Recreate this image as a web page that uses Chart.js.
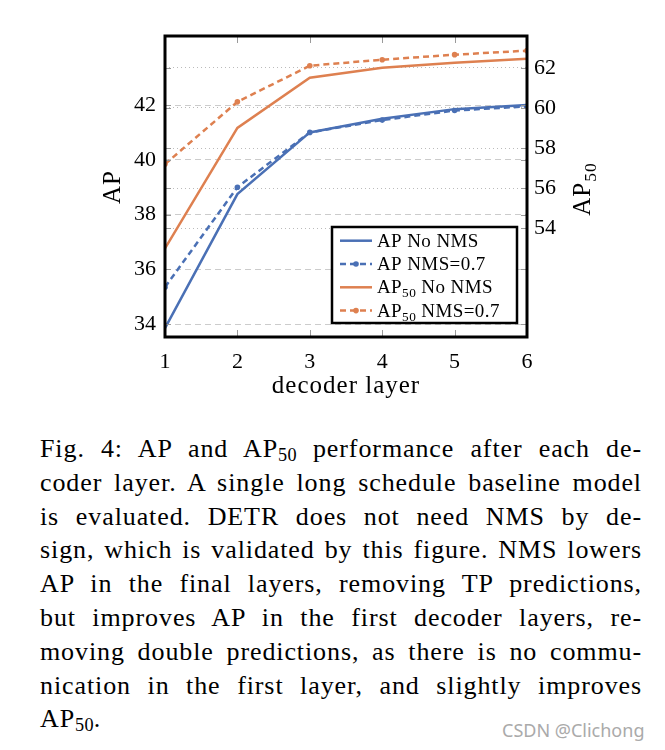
<!DOCTYPE html>
<html>
<head>
<meta charset="utf-8">
<script src="https://cdn.jsdelivr.net/npm/chart.js@4.4.0/dist/chart.umd.min.js"></script>
<style>
body{margin:0;background:#fff;width:665px;height:750px;overflow:hidden;position:relative;font-family:"Liberation Serif","DejaVu Serif",serif;color:#000;}
#wrap{position:absolute;left:0;top:0;width:665px;height:410px;}
#caption{position:absolute;left:40px;top:432px;width:602px;font-size:26px;line-height:33.8px;letter-spacing:0.9px;}
#caption div{text-align:justify;text-align-last:justify;height:33.8px;white-space:nowrap;}
#caption div.last{text-align-last:left;}
sub{font-size:0.7em;vertical-align:-0.22em;line-height:0;letter-spacing:0.3px;}
#mark{position:absolute;left:502px;top:719px;font-family:"Noto Sans",sans-serif;font-size:18px;color:#aaa;line-height:22px;}
</style>
</head>
<body>
<div id="wrap"><canvas id="myChart" width="665" height="410"></canvas></div>
<div id="caption">
<div>Fig. 4: AP and AP<sub>50</sub> performance after each de-</div>
<div>coder layer. A single long schedule baseline model</div>
<div>is evaluated. DETR does not need NMS by de-</div>
<div>sign, which is validated by this figure. NMS lowers</div>
<div>AP in the final layers, removing TP predictions,</div>
<div>but improves AP in the first decoder layers, re-</div>
<div>moving double predictions, as there is no commu-</div>
<div>nication in the first layer, and slightly improves</div>
<div class="last">AP<sub>50</sub>.</div>
</div>
<div id="mark">CSDN @Clichong</div>
<script>
const ctx = document.getElementById('myChart').getContext('2d');

const serif = "'Liberation Serif', 'DejaVu Serif', serif";
const blue = '#4a70b5';
const orange = '#de8050';

// decoder layer on x
const layers = [1, 2, 3, 4, 5, 6];

// AP (left axis)
const apNoNms = [33.85, 38.75, 41.0, 41.5, 41.85, 42.0];
const apNms = [35.35, 39.0, 41.0, 41.45, 41.8, 41.95];

// AP50 (right axis)
const ap50NoNms = [53.0, 59.0, 61.5, 62.0, 62.25, 62.45];
const ap50Nms = [57.2, 60.3, 62.1, 62.4, 62.65, 62.85];

// tick labels
const apTicks = [34, 36, 38, 40, 42];
const ap50Ticks = [54, 56, 58, 60, 62];

const pts = (ys) => layers.map((x, i) => ({x: x, y: ys[i]}));

// text with _{..} subscripts, y = baseline
function drawRich(c, text, x, y, size, align, spacing) {
    const parts = [];
    text.split(/(_\{[^}]*\})/).forEach(p => {
        if (!p) return;
        if (p.startsWith('_{')) parts.push({t: p.slice(2, -1), sub: true});
        else parts.push({t: p, sub: false});
    });
    const subSize = size * 0.7;
    c.letterSpacing = (spacing || 0) + 'px';
    let w = 0;
    parts.forEach(p => {
        c.font = (p.sub ? subSize : size) + 'px ' + serif;
        p.w = c.measureText(p.t).width;
        w += p.w;
    });
    let cx = align === 'center' ? x - w / 2 : x;
    c.textAlign = 'left';
    c.textBaseline = 'alphabetic';
    parts.forEach(p => {
        c.font = (p.sub ? subSize : size) + 'px ' + serif;
        c.fillText(p.t, cx, p.sub ? y + size * 0.22 : y);
        cx += p.w;
    });
    c.letterSpacing = '0px';
}

const figurePlugin = {
    id: 'figure',
    afterDraw(chart) {
        const c = chart.ctx;
        const a = chart.chartArea;
        c.save();

        // little inward ticks
        c.strokeStyle = '#9a9a9a';
        c.lineWidth = 1;
        c.setLineDash([]);
        const sx = chart.scales.x, yl = chart.scales.yAP, yr = chart.scales.yAP50;
        layers.slice(1, -1).forEach(v => {
            const px = Math.round(sx.getPixelForValue(v)) + 0.5;
            c.beginPath();
            c.moveTo(px, a.bottom); c.lineTo(px, a.bottom - 7);
            c.moveTo(px, a.top); c.lineTo(px, a.top + 7);
            c.stroke();
        });
        const sideTick = (py) => {
            c.beginPath();
            c.moveTo(a.right, py); c.lineTo(a.right - 6, py);
            c.moveTo(a.left, py); c.lineTo(a.left + 6, py);
            c.stroke();
        };
        apTicks.forEach(v => sideTick(Math.round(yl.getPixelForValue(v)) + 0.5));
        ap50Ticks.forEach(v => sideTick(Math.round(yr.getPixelForValue(v)) + 0.5));

        // frame
        c.strokeStyle = '#000';
        c.lineWidth = 3;
        c.strokeRect(a.left, a.top, a.right - a.left, a.bottom - a.top);

        // axis titles
        c.fillStyle = '#000';
        drawRich(c, 'decoder layer', (a.left + a.right) / 2, 393, 25, 'center', 1);
        c.save();
        c.translate(120, 187);
        c.rotate(-Math.PI / 2);
        drawRich(c, 'AP', 0, 0, 25, 'center', 1);
        c.restore();
        c.save();
        c.translate(590, 189);
        c.rotate(-Math.PI / 2);
        drawRich(c, 'AP_{50}', 0, 0, 25, 'center', 1);
        c.restore();

        // legend
        const bx = 332, by = 227, bw = 185, bh = 96;
        c.fillStyle = '#fff';
        c.fillRect(bx, by, bw, bh);
        c.lineWidth = 2.5;
        c.strokeStyle = '#000';
        c.strokeRect(bx, by, bw, bh);
        chart.data.datasets.forEach((ds, i) => {
            const base = 246.7 + i * 23.3;
            const ly = base - 6;
            c.strokeStyle = ds.borderColor;
            c.lineWidth = ds.borderWidth;
            c.setLineDash(ds.borderDash || []);
            c.beginPath(); c.moveTo(340, ly); c.lineTo(372, ly); c.stroke();
            c.setLineDash([]);
            if (ds.pointRadius > 0) {
                c.fillStyle = ds.borderColor;
                c.beginPath(); c.arc(356, ly, 2.8, 0, Math.PI * 2); c.fill();
            }
            c.fillStyle = '#000';
            drawRich(c, ds.legendText, 377, base, 19, 'left', 0.4);
        });
        c.restore();
    }
};

const data = {
    datasets: [
        {
            label: 'AP No NMS',
            legendText: 'AP No NMS',
            data: pts(apNoNms),
            yAxisID: 'yAP',
            borderColor: blue,
            borderWidth: 2.5,
            pointRadius: 0,
        },
        {
            label: 'AP NMS=0.7',
            legendText: 'AP NMS=0.7',
            data: pts(apNms),
            yAxisID: 'yAP',
            borderColor: blue,
            backgroundColor: blue,
            borderWidth: 2.5,
            borderDash: [6, 4],
            pointRadius: 2.8,
            pointBorderWidth: 0,
        },
        {
            label: 'AP50 No NMS',
            legendText: 'AP_{50} No NMS',
            data: pts(ap50NoNms),
            yAxisID: 'yAP50',
            borderColor: orange,
            borderWidth: 2.5,
            pointRadius: 0,
        },
        {
            label: 'AP50 NMS=0.7',
            legendText: 'AP_{50} NMS=0.7',
            data: pts(ap50Nms),
            yAxisID: 'yAP50',
            borderColor: orange,
            backgroundColor: orange,
            borderWidth: 2.5,
            borderDash: [6, 4],
            pointRadius: 2.8,
            pointBorderWidth: 0,
        },
    ],
};

const tickFont = {family: serif, size: 22};

const config = {
    type: 'line',
    data: data,
    plugins: [figurePlugin],
    options: {
        responsive: false,
        animation: false,
        devicePixelRatio: 1,
        layout: {padding: {left: 100, right: 0, top: 36, bottom: 0}},
        plugins: {
            legend: {display: false},
            title: {display: false},
            tooltip: {enabled: false},
        },
        scales: {
            x: {
                type: 'linear',
                min: 1,
                max: 6,
                afterFit: (s) => { s.height = 73; },
                afterBuildTicks: (s) => { s.ticks = layers.map(v => ({value: v})); },
                ticks: {font: tickFont, color: '#000', padding: 4},
                grid: {display: false},
                border: {display: false},
            },
            yAP: {
                position: 'left',
                min: 33.53,
                max: 44.52,
                afterFit: (s) => { s.width = 65; },
                afterBuildTicks: (s) => { s.ticks = apTicks.map(v => ({value: v})); },
                ticks: {font: tickFont, color: '#000', padding: 9},
                grid: {color: '#cccccc', lineWidth: 1, drawTicks: false},
                border: {display: false, dash: [6, 4]},
            },
            yAP50: {
                position: 'right',
                min: 48.59,
                max: 63.58,
                afterFit: (s) => { s.width = 138; },
                afterBuildTicks: (s) => { s.ticks = ap50Ticks.map(v => ({value: v})); },
                ticks: {font: tickFont, color: '#000', padding: 7},
                grid: {color: '#bbbbbb', lineWidth: 1, drawTicks: false},
                border: {display: false, dash: [1, 3]},
            },
        },
    },
};

const myChart = new Chart(ctx, config);
</script>
</body>
</html>
